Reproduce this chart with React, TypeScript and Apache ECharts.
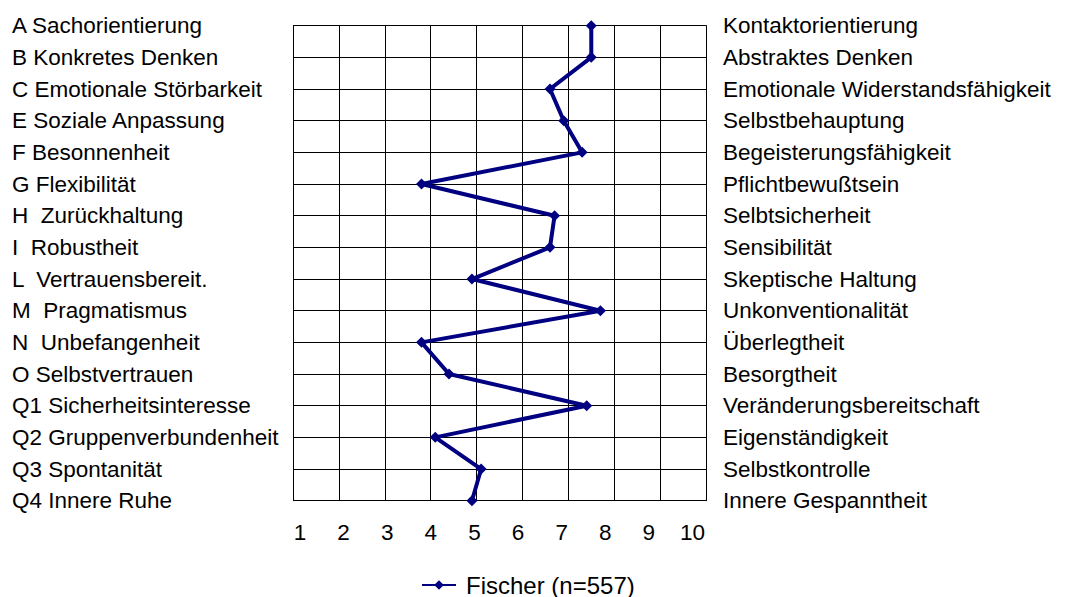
import React, { useEffect, useRef } from "react";
import * as echarts from "echarts";

const leftLabels = [
  "A Sachorientierung",
  "B Konkretes Denken",
  "C Emotionale Störbarkeit",
  "E Soziale Anpassung",
  "F Besonnenheit",
  "G Flexibilität",
  "H  Zurückhaltung",
  "I  Robustheit",
  "L  Vertrauensbereit.",
  "M  Pragmatismus",
  "N  Unbefangenheit",
  "O Selbstvertrauen",
  "Q1 Sicherheitsinteresse",
  "Q2 Gruppenverbundenheit",
  "Q3 Spontanität",
  "Q4 Innere Ruhe",
];

const rightLabels = [
  "Kontaktorientierung",
  "Abstraktes Denken",
  "Emotionale Widerstandsfähigkeit",
  "Selbstbehauptung",
  "Begeisterungsfähigkeit",
  "Pflichtbewußtsein",
  "Selbtsicherheit",
  "Sensibilität",
  "Skeptische Haltung",
  "Unkonventionalität",
  "Überlegtheit",
  "Besorgtheit",
  "Veränderungsbereitschaft",
  "Eigenständigkeit",
  "Selbstkontrolle",
  "Innere Gespanntheit",
];

const fischerValues = [7.5, 7.5, 6.6, 6.9, 7.3, 3.8, 6.7, 6.6, 4.9, 7.7, 3.8, 4.4, 7.4, 4.1, 5.1, 4.9];

const xTickLabels = [1, 2, 3, 4, 5, 6, 7, 8, 9, 10];

const seriesName = "Fischer (n=557)";

const FONT = "'Liberation Sans', Arial, sans-serif";

export default function App() {
  const ref = useRef<HTMLDivElement>(null);

  useEffect(() => {
    document.body.style.margin = "0";
    if (!ref.current) return;
    const chart = echarts.init(ref.current, undefined, { renderer: "svg" });
    chart.setOption({
      animation: false,
      backgroundColor: "#ffffff",
      textStyle: { fontFamily: FONT },
      grid: { left: 293, right: 360, top: 25.7, bottom: 96.3, containLabel: false },
      legend: {
        show: true,
        data: [seriesName],
        left: 421,
        top: 573,
        padding: 0,
        itemWidth: 34,
        itemHeight: 12,
        textStyle: { fontSize: 24, color: "#000", fontFamily: FONT, padding: [0, 0, 0, 5] },
      },
      xAxis: [
        {
          type: "value",
          min: 1,
          max: 10,
          interval: 1,
          axisLine: { show: false },
          axisTick: { show: false },
          axisLabel: { show: false },
          splitLine: { show: true, lineStyle: { color: "#000", width: 1 } },
        },
        {
          type: "value",
          position: "bottom",
          min: 0.84,
          max: 10.31,
          axisLine: { show: false },
          axisTick: { show: false },
          splitLine: { show: false },
          axisLabel: {
            show: true,
            customValues: xTickLabels,
            margin: 20,
            fontSize: 22.5,
            color: "#000",
            fontFamily: FONT,
          },
        },
      ],
      yAxis: [
        {
          type: "category",
          data: leftLabels,
          inverse: true,
          boundaryGap: false,
          position: "left",
          axisLine: { show: true, lineStyle: { color: "#000", width: 1 } },
          axisTick: { show: false },
          splitLine: { show: true, lineStyle: { color: "#000", width: 1 } },
          axisLabel: {
            show: true,
            interval: 0,
            align: "left",
            margin: 281,
            fontSize: 22.5,
            color: "#000",
            fontFamily: FONT,
          },
        },
        {
          type: "category",
          data: rightLabels,
          inverse: true,
          boundaryGap: false,
          position: "right",
          axisLine: { show: true, lineStyle: { color: "#000", width: 1 } },
          axisTick: { show: false },
          splitLine: { show: false },
          axisLabel: {
            show: true,
            interval: 0,
            align: "left",
            margin: 17,
            fontSize: 22.5,
            color: "#000",
            fontFamily: FONT,
          },
        },
      ],
      series: [
        {
          name: seriesName,
          type: "line",
          xAxisIndex: 0,
          yAxisIndex: 0,
          data: fischerValues.map((v, i) => [v, leftLabels[i]]),
          symbol: "diamond",
          symbolSize: 11,
          lineStyle: { color: "#000080", width: 4 },
          itemStyle: { color: "#000080" },
        },
      ],
    });
    return () => chart.dispose();
  }, []);

  return <div ref={ref} style={{ width: 1066, height: 597 }} />;
}
